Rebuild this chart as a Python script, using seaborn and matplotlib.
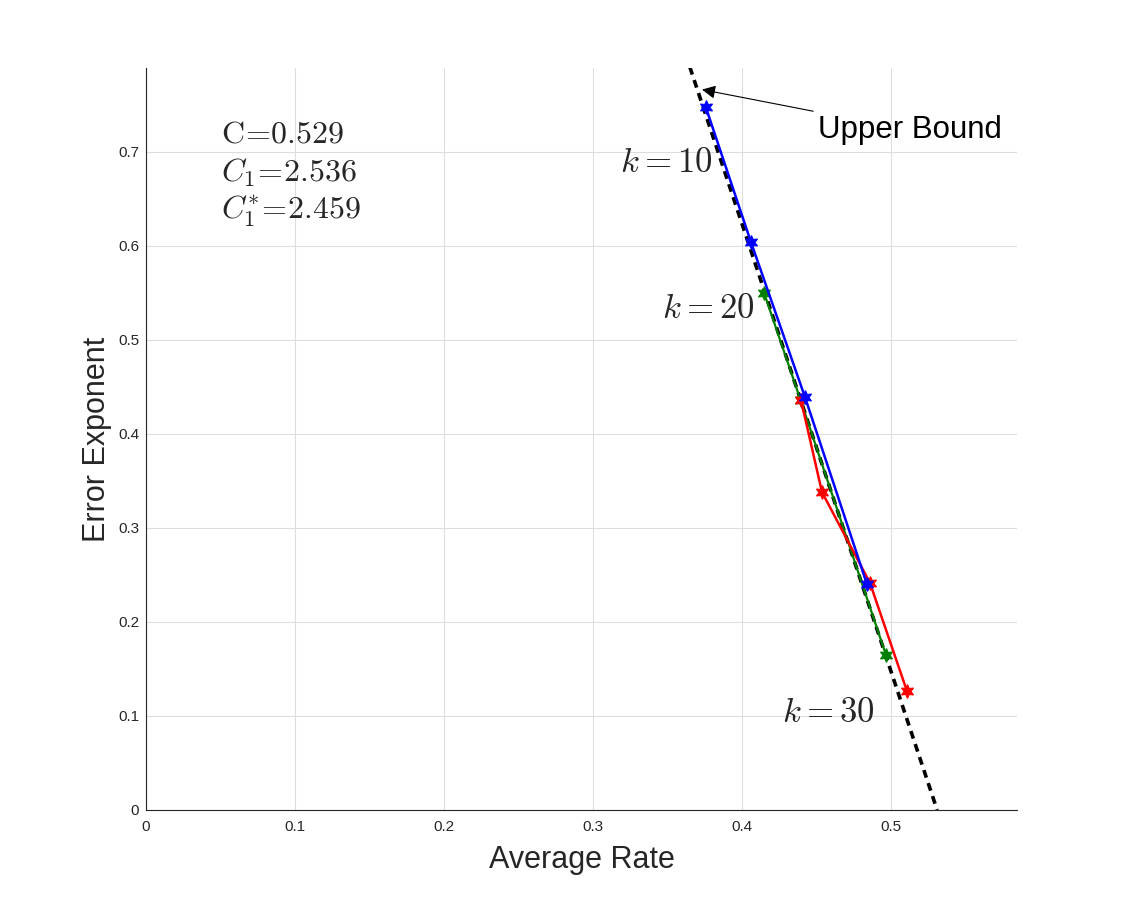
import matplotlib
matplotlib.use("Agg")
import matplotlib.pyplot as plt
import seaborn as sns
import pandas as pd

# ---- data ----
blue_rate = [0.3758, 0.4060, 0.4423, 0.4839]
blue_exp = [0.747, 0.604, 0.439, 0.240]

green_rate = [0.4148, 0.4393, 0.4966]
green_exp = [0.550, 0.436, 0.165]

red_rate = [0.4396, 0.4537, 0.4859, 0.5107]
red_exp = [0.436, 0.338, 0.2415, 0.1266]

bound_rate = [0.3650, 0.5310]
bound_exp = [0.790, 0.000]

x_ticks = [0, 0.1, 0.2, 0.3, 0.4, 0.5]
y_ticks = [0, 0.1, 0.2, 0.3, 0.4, 0.5, 0.6, 0.7]
stats_text = [r"$\mathrm{C}\!=\!0.529$", r"$C_1\!=\!2.536$", r"$C_1^{*}\!=\!2.459$"]
k_labels = [r"$k=10$", r"$k=20$", r"$k=30$"]

sns.set_style("white")
plt.rcParams["font.family"] = ["Liberation Sans", "DejaVu Sans"]
plt.rcParams["mathtext.fontset"] = "cm"

fig = plt.figure(figsize=(11.24, 9.11), dpi=100)
ax = fig.add_axes([0.1299, 0.1109, 0.9048 - 0.1299, 0.9254 - 0.1109])

star = (6, 1, 0)
def df(x, y):
    return pd.DataFrame({"rate": x, "exp": y})

sns.lineplot(data=df(bound_rate, bound_exp), x="rate", y="exp", ax=ax, sort=False,
             color="black", lw=2.6, linestyle=(0, (2.2, 1.6)), zorder=2)
sns.lineplot(data=df(green_rate, green_exp), x="rate", y="exp", ax=ax, sort=False,
             color="#008000", lw=1.6, marker=star, markersize=10, markeredgewidth=0.8,
             markeredgecolor="#008000", zorder=3)
sns.lineplot(data=df(red_rate, red_exp), x="rate", y="exp", ax=ax, sort=False,
             color="#ff0000", lw=1.8, marker=star, markersize=10, markeredgewidth=0.8,
             markeredgecolor="#ff0000", zorder=4)
sns.lineplot(data=df(blue_rate, blue_exp), x="rate", y="exp", ax=ax, sort=False,
             color="#0000ff", lw=1.8, marker=star, markersize=10, markeredgewidth=0.8,
             markeredgecolor="#0000ff", zorder=5)

ax.set_xlim(0, 0.5846)
ax.set_ylim(0, 0.789)
ax.set_xticks(x_ticks)
ax.set_yticks(y_ticks)
ax.set_xticklabels([f"{t:g}" for t in x_ticks])
ax.set_yticklabels([f"{t:g}" for t in y_ticks])
ax.tick_params(direction="in", length=5, width=0.8, labelsize=11, colors="#262626",
               labelcolor="#262626")
ax.tick_params(axis="x", pad=7)
ax.tick_params(axis="y", pad=5)
ax.grid(True, color="#dddddd", lw=0.8)
ax.set_axisbelow(True)
for s in ["top", "right"]:
    ax.spines[s].set_visible(False)
for s in ["left", "bottom"]:
    ax.spines[s].set_color("#262626")
    ax.spines[s].set_linewidth(0.8)

ax.set_xlabel("Average Rate", fontsize=22, color="#262626", labelpad=8)
ax.set_ylabel("Error Exponent", fontsize=22, color="#262626", labelpad=4)

for t, yy in zip(stats_text, [0.718, 0.678, 0.636]):
    ax.text(0.0503, yy, t, fontsize=23, va="center", ha="left")

for t, (xx, yy) in zip(k_labels, [(0.318, 0.688), (0.346, 0.533), (0.4268, 0.104)]):
    ax.text(xx, yy, t, fontsize=25, va="center", ha="left")

ax.annotate("Upper Bound", xy=(0.3732, 0.766), xytext=(0.451, 0.723),
            fontsize=22.5, va="center", ha="left", color="black",
            arrowprops=dict(arrowstyle="-|>", color="black", lw=0.8,
                            mutation_scale=20, shrinkA=2, shrinkB=0))

fig.savefig("out.png", dpi=100, facecolor="white")
